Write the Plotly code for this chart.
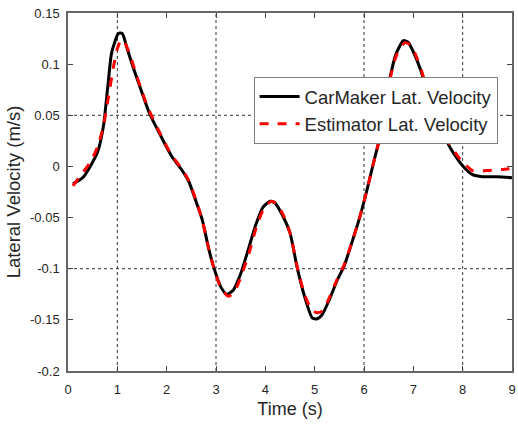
import plotly.graph_objects as go

# CarMaker lateral velocity (m/s)
t_carmaker = [0.1, 0.3, 0.45, 0.6, 0.72, 0.8, 0.88, 0.95, 1.02, 1.1, 1.2, 1.32, 1.5, 1.65,
              1.9, 2.1, 2.3, 2.45, 2.6, 2.72, 2.85, 2.95, 3.1, 3.22, 3.35, 3.5, 3.65, 3.8,
              3.95, 4.1, 4.2, 4.35, 4.5, 4.65, 4.8, 4.95, 5.05, 5.15, 5.3, 5.45, 5.6, 5.75,
              5.9, 6.05, 6.2, 6.35, 6.5, 6.65, 6.8, 6.9, 7.0, 7.15, 7.3, 7.45, 7.6, 7.75,
              7.9, 8.05, 8.2, 8.4, 8.7, 9.0]
v_carmaker = [-0.017, -0.011, 0.000, 0.014, 0.040, 0.075, 0.110, 0.122, 0.130, 0.130, 0.115,
              0.097, 0.072, 0.052, 0.028, 0.010, -0.003, -0.015, -0.035, -0.052, -0.080,
              -0.098, -0.118, -0.125, -0.121, -0.105, -0.082, -0.058, -0.040, -0.034, -0.036,
              -0.048, -0.065, -0.100, -0.128, -0.148, -0.149, -0.145, -0.130, -0.112, -0.097,
              -0.075, -0.052, -0.025, 0.005, 0.034, 0.080, 0.110, 0.123, 0.121, 0.112, 0.094,
              0.070, 0.050, 0.033, 0.018, 0.007, -0.002, -0.008, -0.010, -0.010, -0.011]

# Estimator lateral velocity (m/s)
t_estimator = [0.1, 0.3, 0.45, 0.6, 0.72, 0.82, 0.92, 1.0, 1.08, 1.15, 1.25, 1.35, 1.5, 1.65,
               1.9, 2.1, 2.3, 2.45, 2.6, 2.72, 2.85, 2.95, 3.1, 3.25, 3.38, 3.52, 3.68, 3.82,
               3.97, 4.12, 4.22, 4.37, 4.5, 4.65, 4.8, 4.95, 5.06, 5.17, 5.3, 5.45, 5.6,
               5.75, 5.9, 6.05, 6.2, 6.35, 6.5, 6.67, 6.83, 6.93, 7.03, 7.17, 7.3, 7.45, 7.6,
               7.75, 7.9, 8.05, 8.2, 8.5, 8.8, 9.0]
v_estimator = [-0.019, -0.006, 0.004, 0.019, 0.040, 0.068, 0.097, 0.115, 0.124, 0.121, 0.110,
               0.095, 0.073, 0.054, 0.029, 0.011, -0.002, -0.014, -0.034, -0.052, -0.080,
               -0.098, -0.119, -0.127, -0.122, -0.106, -0.083, -0.059, -0.041, -0.034, -0.036,
               -0.048, -0.065, -0.099, -0.126, -0.141, -0.143, -0.141, -0.128, -0.111, -0.096,
               -0.075, -0.052, -0.025, 0.005, 0.034, 0.080, 0.110, 0.121, 0.119, 0.111, 0.093,
               0.071, 0.051, 0.035, 0.021, 0.010, 0.002, -0.004, -0.004, -0.003, -0.002]

x_ticks = [0, 1, 2, 3, 4, 5, 6, 7, 8, 9]
y_ticks = [0.15, 0.1, 0.05, 0, -0.05, -0.1, -0.15, -0.2]
y_tick_text = ["0.15", "0.1", "0.05", "0", "-0.05", "-0.1", "-0.15", "-0.2"]
grid_x = [1, 3, 6, 8]
grid_y = [0.05, -0.1]

font_family = "Liberation Sans, Arial, sans-serif"
txt = "#262626"

fig = go.Figure()
fig.add_trace(go.Scatter(x=t_carmaker, y=v_carmaker, mode="lines", name="CarMaker Lat. Velocity",
                         line=dict(color="black", width=3, shape="spline", smoothing=0.6)))
fig.add_trace(go.Scatter(x=t_estimator, y=v_estimator, mode="lines", name="Estimator Lat. Velocity",
                         line=dict(color="#ff0000", width=3, dash="dash", shape="spline", smoothing=0.6)))

for gx in grid_x:
    fig.add_shape(type="line", xref="x", yref="paper", x0=gx, x1=gx, y0=0, y1=1,
                  line=dict(color="#333333", width=1, dash="dot"), layer="below")
for gy in grid_y:
    fig.add_shape(type="line", xref="paper", yref="y", x0=0, x1=1, y0=gy, y1=gy,
                  line=dict(color="#333333", width=1, dash="dot"), layer="below")

axis_common = dict(showline=True, linecolor="#666666", linewidth=1.5, mirror="allticks",
                   ticks="inside", ticklen=5, tickcolor="#444444", showgrid=False, zeroline=False,
                   ticklabeloverflow="allow",
                   tickfont=dict(family=font_family, size=13, color=txt))

fig.update_xaxes(range=[0, 9], tickvals=x_ticks, ticklabelstandoff=6,
                 title=dict(text="Time (s)", font=dict(family=font_family, size=18, color=txt), standoff=6),
                 **axis_common)
fig.update_yaxes(range=[-0.2, 0.15], tickvals=y_ticks, ticktext=y_tick_text, ticklabelstandoff=4,
                 title=dict(text="Lateral Velocity (m/s)", font=dict(family=font_family, size=18.5, color=txt), standoff=5),
                 **axis_common)

fig.update_layout(
    width=518, height=424,
    margin=dict(l=68, r=2, t=13, b=53),
    plot_bgcolor="white", paper_bgcolor="white",
    showlegend=True,
    legend=dict(x=0.418, y=0.821, xanchor="left", yanchor="top",
                bgcolor="white", bordercolor="#808080", borderwidth=1,
                font=dict(family=font_family, size=18.5, color=txt),
                tracegroupgap=0, itemwidth=40),
)

# remove the default 8px page margin so the figure fills the window
fig.write_html("out.html", config={"displayModeBar": False},
               post_script="document.body.style.margin='0px';")
